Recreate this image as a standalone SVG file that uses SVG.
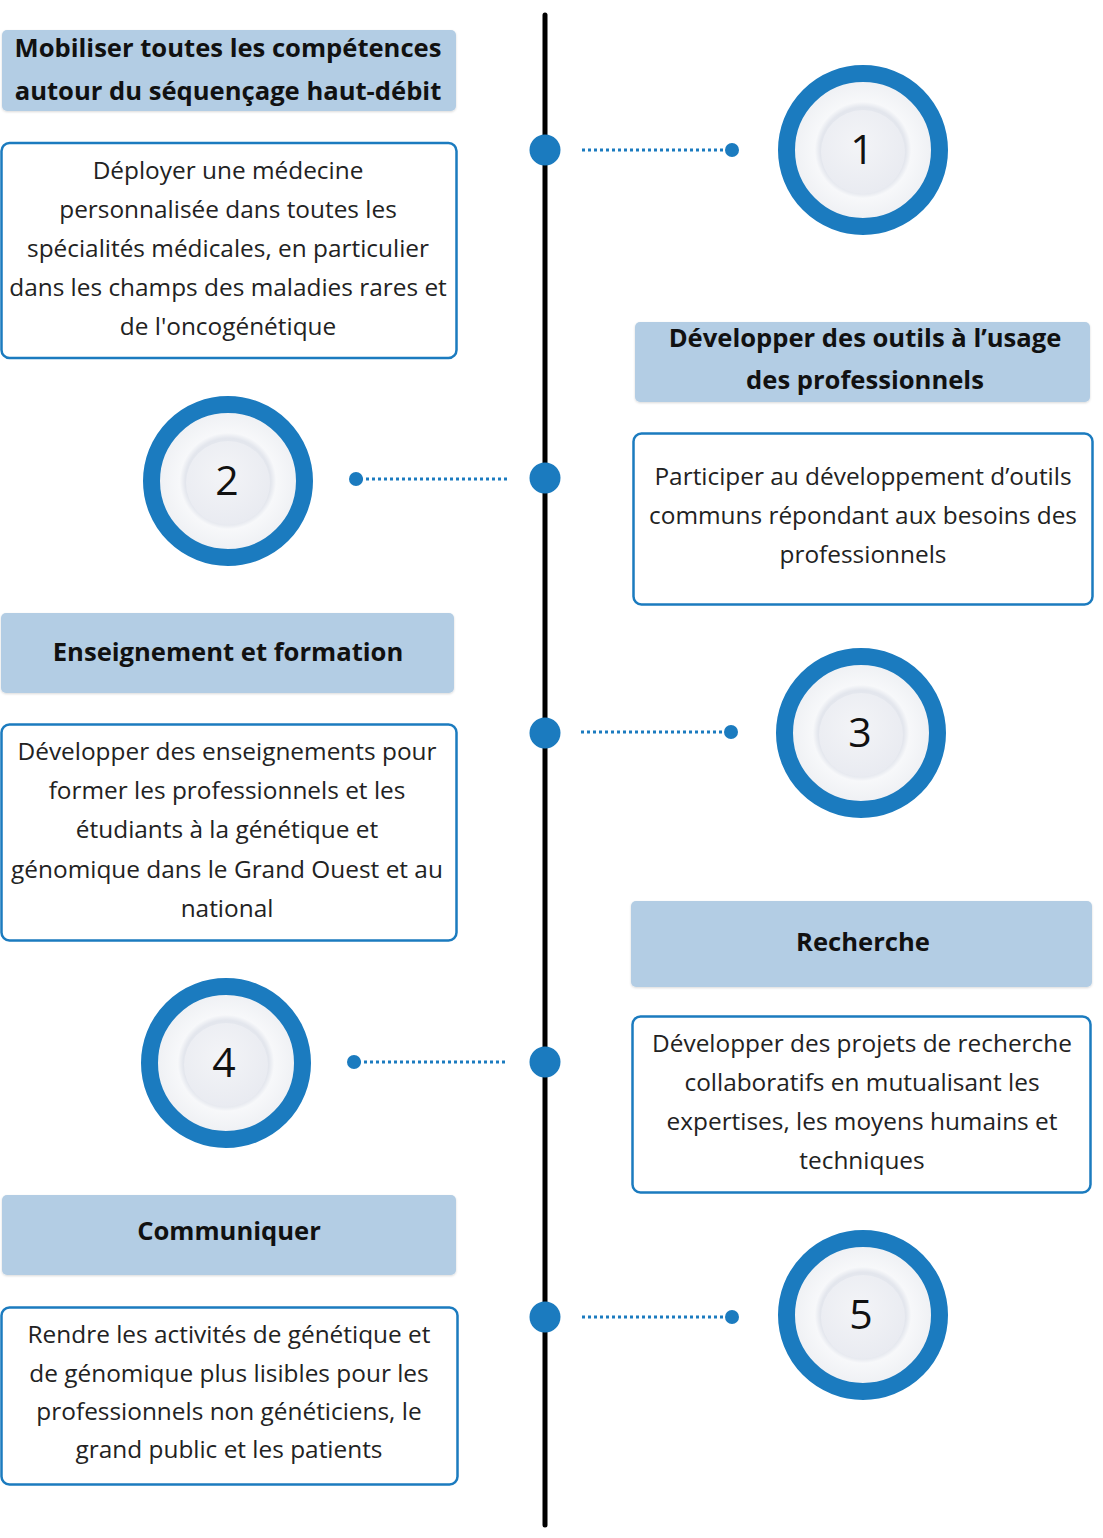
<svg xmlns="http://www.w3.org/2000/svg" width="1103" height="1538" viewBox="0 0 1103 1538">
<style>
.hdr{fill:#b3cde4;}
.box{fill:#fff;stroke:#1b7bbf;stroke-width:2.5;}
.ht{font-family:"Open Sans","Liberation Sans",sans-serif;font-weight:bold;font-size:25.6px;fill:#111;text-anchor:middle;}
.bt{font-family:"Open Sans","Liberation Sans",sans-serif;font-size:24.4px;fill:#222;text-anchor:middle;}
.num{font-family:"Open Sans","Liberation Sans",sans-serif;font-size:41px;fill:#111;text-anchor:middle;}
.ring{fill:url(#plate);stroke:#1b7bbf;stroke-width:17;}
.inner{fill:url(#disc);}
.dot{fill:#1b7bbf;}
.dl{stroke:#1b7bbf;stroke-width:3;stroke-dasharray:3 3;fill:none;}
</style>
<defs>
<radialGradient id="plate" cx="0.5" cy="0.5" r="0.5">
<stop offset="0" stop-color="#eef0f4"/>
<stop offset="0.56" stop-color="#e3e6ed"/>
<stop offset="0.63" stop-color="#f7f8fa"/>
<stop offset="1" stop-color="#eceef2"/>
</radialGradient>
<radialGradient id="disc" cx="0.45" cy="0.4" r="0.6">
<stop offset="0" stop-color="#f3f4f7"/>
<stop offset="1" stop-color="#e9ebf1"/>
</radialGradient>
<filter id="sh" x="-10%" y="-10%" width="120%" height="130%">
<feDropShadow dx="0" dy="1" stdDeviation="1" flood-color="#000" flood-opacity="0.15"/>
</filter>
</defs>
<rect width="1103" height="1538" fill="#fff"/>

<g id="connectors">
<line x1="545" y1="15" x2="545" y2="1525" stroke="#000" stroke-width="5" stroke-linecap="round"/>
<circle class="dot" cx="545" cy="150" r="15.5"/>
<line class="dl" x1="582" y1="150" x2="728" y2="150"/>
<circle class="dot" cx="732" cy="150" r="7"/>
<circle class="dot" cx="545" cy="478" r="15.5"/>
<line class="dl" x1="360" y1="479" x2="507" y2="479"/>
<circle class="dot" cx="356" cy="479" r="7"/>
<circle class="dot" cx="545" cy="733" r="15.5"/>
<line class="dl" x1="581" y1="732" x2="727" y2="732"/>
<circle class="dot" cx="731" cy="732" r="7"/>
<circle class="dot" cx="545" cy="1062" r="15.5"/>
<line class="dl" x1="358" y1="1062" x2="505" y2="1062"/>
<circle class="dot" cx="354" cy="1062" r="7"/>
<circle class="dot" cx="545" cy="1317" r="15.5"/>
<line class="dl" x1="582" y1="1317" x2="728" y2="1317"/>
<circle class="dot" cx="732" cy="1317" r="7"/>
</g>

<g id="circle1">
<circle class="ring" cx="863" cy="150" r="76.5"/>
<circle class="inner" cx="863" cy="152" r="42"/>
<text class="num" x="862" y="164">1</text>
</g>
<g id="circle2">
<circle class="ring" cx="228" cy="481" r="76.5"/>
<circle class="inner" cx="228" cy="483" r="42"/>
<text class="num" x="227" y="495">2</text>
</g>
<g id="circle3">
<circle class="ring" cx="861" cy="733" r="76.5"/>
<circle class="inner" cx="861" cy="735" r="42"/>
<text class="num" x="860" y="747">3</text>
</g>
<g id="circle4">
<circle class="ring" cx="226" cy="1063" r="76.5"/>
<circle class="inner" cx="226" cy="1065" r="42"/>
<text class="num" x="224" y="1077">4</text>
</g>
<g id="circle5">
<circle class="ring" cx="863" cy="1315" r="76.5"/>
<circle class="inner" cx="863" cy="1317" r="42"/>
<text class="num" x="861" y="1329">5</text>
</g>

<g id="header1">
<rect class="hdr" x="2" y="30" width="454" height="81" rx="5" filter="url(#sh)"/>
<text class="ht" x="228" y="57">Mobiliser toutes les compétences</text>
<text class="ht" x="228" y="100">autour du séquençage haut-débit</text>
</g>
<g id="box1">
<rect class="box" x="1.5" y="143" width="455" height="215" rx="8"/>
<text class="bt" x="228" y="179">Déployer une médecine</text>
<text class="bt" x="228" y="218">personnalisée dans toutes les</text>
<text class="bt" x="228" y="257">spécialités médicales, en particulier</text>
<text class="bt" x="228" y="296">dans les champs des maladies rares et</text>
<text class="bt" x="228" y="335">de l'oncogénétique</text>
</g>

<g id="header2">
<rect class="hdr" x="635" y="322" width="455" height="80" rx="5" filter="url(#sh)"/>
<text class="ht" x="865" y="347">Développer des outils à l’usage</text>
<text class="ht" x="865" y="389">des professionnels</text>
</g>
<g id="box2">
<rect class="box" x="633.5" y="433.5" width="459" height="171" rx="8"/>
<text class="bt" x="863" y="485">Participer au développement d’outils</text>
<text class="bt" x="863" y="524">communs répondant aux besoins des</text>
<text class="bt" x="863" y="563">professionnels</text>
</g>

<g id="header3">
<rect class="hdr" x="1" y="613" width="453" height="80" rx="5" filter="url(#sh)"/>
<text class="ht" x="228" y="661">Enseignement et formation</text>
</g>
<g id="box3">
<rect class="box" x="1.5" y="724.5" width="455" height="216" rx="8"/>
<text class="bt" x="227" y="760">Développer des enseignements pour</text>
<text class="bt" x="227" y="799">former les professionnels et les</text>
<text class="bt" x="227" y="838">étudiants à la génétique et</text>
<text class="bt" x="227" y="878">génomique dans le Grand Ouest et au</text>
<text class="bt" x="227" y="917">national</text>
</g>

<g id="header4">
<rect class="hdr" x="631" y="901" width="461" height="86" rx="5" filter="url(#sh)"/>
<text class="ht" x="863" y="951">Recherche</text>
</g>
<g id="box4">
<rect class="box" x="632.5" y="1016.5" width="458" height="176" rx="8"/>
<text class="bt" x="862" y="1052">Développer des projets de recherche</text>
<text class="bt" x="862" y="1091">collaboratifs en mutualisant les</text>
<text class="bt" x="862" y="1130">expertises, les moyens humains et</text>
<text class="bt" x="862" y="1169">techniques</text>
</g>

<g id="header5">
<rect class="hdr" x="2" y="1195" width="454" height="80" rx="5" filter="url(#sh)"/>
<text class="ht" x="229" y="1240">Communiquer</text>
</g>
<g id="box5">
<rect class="box" x="1.5" y="1307.5" width="456" height="177" rx="8"/>
<text class="bt" x="229" y="1343">Rendre les activités de génétique et</text>
<text class="bt" x="229" y="1382">de génomique plus lisibles pour les</text>
<text class="bt" x="229" y="1420">professionnels non généticiens, le</text>
<text class="bt" x="229" y="1458">grand public et les patients</text>
</g>
</svg>
